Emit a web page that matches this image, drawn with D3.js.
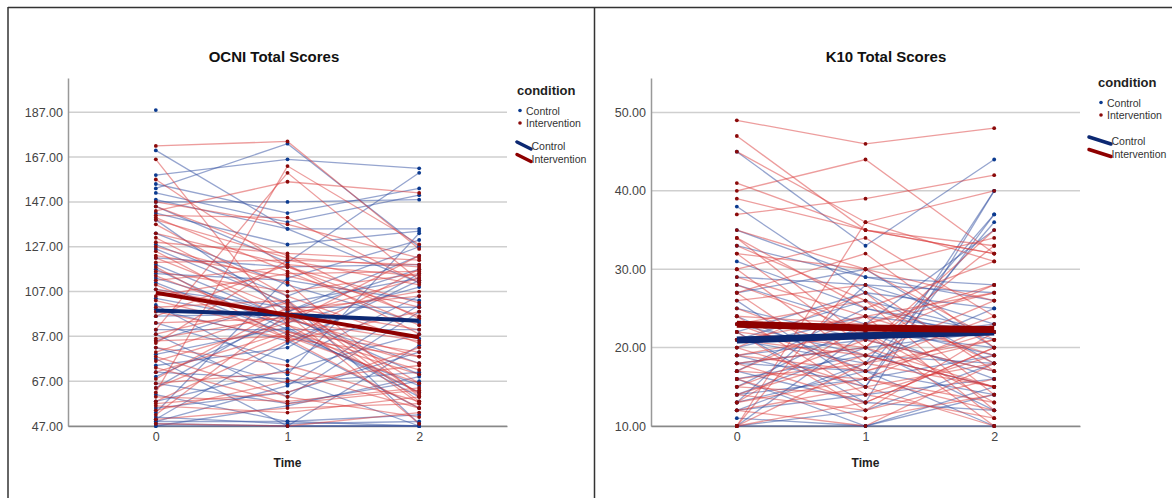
<!DOCTYPE html>
<html>
<head>
<meta charset="utf-8">
<script src="https://cdn.jsdelivr.net/npm/d3@7"></script>
<style>
  html, body { margin: 0; padding: 0; background: #fff; }
  svg { display: block; font-family: "Liberation Sans", Arial, sans-serif; }
</style>
</head>
<body>
<svg id="chart" width="1172" height="498"></svg>
<script>
// ---------- DATA ----------
const times = [0, 1, 2];
const timeTickLabels = ["0", "1", "2"];
const groups = ["Control", "Intervention"];

const ocniTicks = [47, 67, 87, 107, 127, 147, 167, 187];
const k10Ticks = [10, 20, 30, 40, 50];

// OCNI individual trajectories [t0, t1, t2]
const ocniControl = [
  [188, null, null],
  [153, 173, 127],
  [170, 135, 111],
  [159, 166, 162],
  [155, 142, 153],
  [151, 138, 150],
  [148, 135, 135],
  [147, 147, 148],
  [145, 120, 160],
  [142, 128, 134],
  [139, 98, 117],
  [133, 110, 93],
  [128, 105, 127],
  [126, 102, 113],
  [122, 118, 119],
  [119, 95, 75],
  [117, 90, 90],
  [115, 112, 103],
  [113, 96, 70],
  [111, 88, 65],
  [108, 100, 100],
  [104, 93, 109],
  [101, 70, 133],
  [99, 85, 55],
  [96, 97, 86],
  [93, 76, 105],
  [90, 90, 62],
  [88, 60, 98],
  [85, 103, 48],
  [82, 66, 71],
  [79, 91, 60],
  [77, 47, 83],
  [74, 82, 115],
  [71, 68, 47],
  [69, 95, 94],
  [66, 57, 67],
  [64, 98, 123],
  [61, 49, 52],
  [58, 72, 88],
  [55, 62, 80],
  [53, 113, 130],
  [51, 48, 49],
  [50, 84, 112],
  [49, 49, 47],
  [48, 47, 47],
  [47, 47, 47],
  [47, 56, 69],
  [49, 65, 101]
];
const ocniIntervention = [
  [172, 174, 126],
  [166, 92, 75],
  [157, 118, 102],
  [147, 137, 122],
  [145, 123, 95],
  [143, 156, 151],
  [141, 140, 111],
  [140, 116, 92],
  [139, 122, 118],
  [137, 105, 84],
  [133, 119, 114],
  [131, 101, 66],
  [129, 124, 121],
  [127, 111, 60],
  [125, 94, 85],
  [123, 114, 100],
  [122, 99, 57],
  [120, 121, 110],
  [118, 86, 78],
  [116, 107, 115],
  [114, 92, 62],
  [112, 118, 96],
  [110, 86, 55],
  [108, 97, 107],
  [105, 115, 116],
  [103, 89, 72],
  [100, 103, 61],
  [98, 86, 117],
  [96, 119, 88],
  [93, 95, 78],
  [90, 160, 112],
  [88, 102, 58],
  [86, 96, 113],
  [85, 87, 66],
  [84, 121, 119],
  [82, 74, 58],
  [80, 99, 105],
  [78, 60, 51],
  [76, 93, 123],
  [73, 57, 63],
  [71, 89, 80],
  [68, 100, 90],
  [66, 71, 55],
  [64, 88, 70],
  [62, 163, 128],
  [60, 58, 64],
  [58, 85, 98],
  [56, 53, 60],
  [54, 67, 74],
  [52, 97, 48],
  [50, 55, 57],
  [48, 47, 53],
  [57, 62, 82]
];
const ocniMeanControl = [98.5, 96.6, 94.0];
const ocniMeanIntervention = [106.5, 96.6, 86.6];

// K10 individual trajectories [t0, t1, t2]
const k10Control = [
  [45, 33, 44],
  [38, 27, 25],
  [35, 29, 28],
  [33, 29, 26],
  [31, 25, 22],
  [29, 28, 27],
  [28, 23, 19],
  [27, 30, 20],
  [26, 15, 37],
  [25, 21, 23],
  [24, 17, 36],
  [23, 19, 15],
  [22, 27, 18],
  [22, 13, 40],
  [21, 18, 25],
  [21, 22, 16],
  [20, 24, 22],
  [19, 15, 40],
  [19, 21, 17],
  [18, 17, 14],
  [18, 20, 22],
  [17, 13, 12],
  [17, 25, 21],
  [16, 19, 18],
  [16, 10, 15],
  [15, 23, 35],
  [14, 20, 12],
  [14, 16, 19],
  [13, 17, 10],
  [13, 28, 23],
  [12, 14, 16],
  [12, 18, 37],
  [11, 10, 14],
  [10, 22, 20],
  [10, 10, 10],
  [10, 12, 18],
  [21, 26, 22]
];
const k10Intervention = [
  [49, 46, 48],
  [47, 35, 32],
  [45, 36, 31],
  [41, 35, 33],
  [40, 44, 32],
  [39, 35, 32],
  [37, 39, 42],
  [35, 30, 26],
  [34, 25, 31],
  [34, 21, 28],
  [33, 26, 18],
  [32, 30, 34],
  [32, 20, 15],
  [30, 34, 24],
  [30, 18, 21],
  [29, 24, 27],
  [28, 22, 13],
  [27, 32, 20],
  [27, 16, 23],
  [26, 28, 17],
  [25, 19, 15],
  [24, 23, 28],
  [24, 14, 19],
  [23, 26, 12],
  [23, 17, 22],
  [22, 20, 35],
  [22, 12, 16],
  [21, 24, 11],
  [21, 19, 26],
  [20, 15, 18],
  [20, 27, 14],
  [19, 17, 21],
  [19, 22, 10],
  [18, 13, 20],
  [18, 20, 33],
  [17, 16, 13],
  [17, 24, 19],
  [16, 11, 14],
  [16, 18, 24],
  [15, 21, 17],
  [15, 14, 11],
  [14, 19, 15],
  [14, 12, 22],
  [13, 16, 12],
  [13, 23, 27],
  [12, 15, 10],
  [12, 10, 18],
  [10, 18, 15],
  [10, 36, 40],
  [10, 13, 20],
  [10, 30, 21]
];
const k10MeanControl = [20.97, 21.5, 22.0];
const k10MeanIntervention = [22.97, 22.5, 22.3];

// ---------- DRAWING ----------
const svg = d3.select("#chart");
const COLORS = {
  controlDot: "#0b3a8f", interDot: "#8b0a0a",
  controlLine: "rgba(45,75,160,0.5)", interLine: "rgba(220,60,60,0.5)",
  controlMean: "#0c2872", interMean: "#8e0000"
};

// frame
svg.append("line").attr("x1", 8).attr("x2", 1172).attr("y1", 7.5).attr("y2", 7.5).attr("stroke", "#333").attr("stroke-width", 1.5);
svg.append("line").attr("x1", 8).attr("x2", 8).attr("y1", 7).attr("y2", 498).attr("stroke", "#333").attr("stroke-width", 1.5);
svg.append("line").attr("x1", 594.5).attr("x2", 594.5).attr("y1", 7).attr("y2", 498).attr("stroke", "#333").attr("stroke-width", 1.5);

function panel(cfg) {
  const g = svg.append("g");
  const x = d3.scaleLinear().domain([-0.667, 2.667]).range([cfg.x0, cfg.x1]);
  const y = d3.scaleLinear().domain(cfg.yDomain).range([426, 78]);

  // gridlines
  g.selectAll(".grid").data(cfg.ticks).join("line")
    .attr("x1", cfg.x0).attr("x2", cfg.x1)
    .attr("y1", d => y(d)).attr("y2", d => y(d))
    .attr("stroke", "#cfcfcf").attr("stroke-width", 1.5);

  // y axis
  const yAxis = d3.axisLeft(y).tickValues(cfg.ticks).tickFormat(d3.format(".2f")).tickSize(0).tickPadding(5);
  const ya = g.append("g").attr("transform", `translate(${cfg.x0},0)`).call(yAxis);
  ya.select(".domain").attr("stroke", "#999").attr("stroke-width", 1.5);
  ya.selectAll("text").attr("fill", "#444").style("font-size", "12.5px").style("font-family", "Liberation Sans, Arial, sans-serif");

  // x axis
  const xAxis = d3.axisBottom(x).tickValues(times).tickFormat((d, i) => timeTickLabels[i]).tickSize(0).tickPadding(6);
  const xa = g.append("g").attr("transform", "translate(0,426)").call(xAxis);
  xa.select(".domain").attr("stroke", "#888").attr("stroke-width", 1.5);
  xa.selectAll("text").attr("fill", "#444").style("font-size", "12.5px").style("font-family", "Liberation Sans, Arial, sans-serif");

  const line = d3.line().defined(d => d != null).x((d, i) => x(times[i])).y(d => y(d));

  // individual lines
  [[cfg.control, COLORS.controlLine], [cfg.inter, COLORS.interLine]].forEach(([rows, col]) => {
    g.append("g").selectAll("path").data(rows).join("path")
      .attr("d", r => line(r))
      .attr("fill", "none").attr("stroke", col).attr("stroke-width", 1.3);
  });

  // dots
  [[cfg.control, COLORS.controlDot], [cfg.inter, COLORS.interDot]].forEach(([rows, col]) => {
    const pts = [];
    rows.forEach(r => r.forEach((v, i) => { if (v != null) pts.push([times[i], v]); }));
    g.append("g").selectAll("circle").data(pts).join("circle")
      .attr("cx", d => x(d[0])).attr("cy", d => y(d[1])).attr("r", 1.9).attr("fill", col);
  });

  // mean lines
  const mline = d3.line().x((d, i) => x(times[i])).y(d => y(d));
  g.append("path").attr("d", mline(cfg.meanControl)).attr("fill", "none")
    .attr("stroke", COLORS.controlMean).attr("stroke-width", cfg.meanWidth);
  g.append("path").attr("d", mline(cfg.meanInter)).attr("fill", "none")
    .attr("stroke", COLORS.interMean).attr("stroke-width", cfg.meanWidth);

  // title
  g.append("text").attr("x", cfg.titleX).attr("y", 62).attr("text-anchor", "middle")
    .attr("font-weight", "bold").attr("font-size", 15).attr("fill", "#111").text(cfg.title);
  // x label
  g.append("text").attr("x", x(1)).attr("y", 467).attr("text-anchor", "middle")
    .attr("font-weight", "bold").attr("font-size", 12).attr("fill", "#222").text("Time");

  // legend
  const L = cfg.legend;
  g.append("text").attr("x", L.x).attr("y", L.y).attr("font-weight", "bold").attr("font-size", 13).attr("fill", "#222").text("condition");
  [[groups[0], COLORS.controlDot], [groups[1], COLORS.interDot]].forEach(([name, col], i) => {
    const yy = L.y + 16 + i * 12.5;
    g.append("circle").attr("cx", L.x + 3).attr("cy", yy - 0.5).attr("r", 1.8).attr("fill", col);
    g.append("text").attr("x", L.x + 9).attr("y", yy + 3.5).attr("font-size", 10.5).attr("fill", "#333").text(name);
  });
  [[groups[0], COLORS.controlMean], [groups[1], COLORS.interMean]].forEach(([name, col], i) => {
    const yy = L.ly + i * 12.5;
    g.append("line").attr("x1", L.lx).attr("y1", yy - 4).attr("x2", L.lx + L.lw).attr("y2", yy + 3)
      .attr("stroke", col).attr("stroke-width", 3.5).attr("stroke-linecap", "round");
    g.append("text").attr("x", L.lx + L.lw + 0.5).attr("y", yy + 4).attr("font-size", 10.5).attr("fill", "#333").text(name);
  });
}

panel({
  x0: 68, x1: 507, yDomain: [47, 202.3], ticks: ocniTicks,
  control: ocniControl, inter: ocniIntervention,
  meanControl: ocniMeanControl, meanInter: ocniMeanIntervention, meanWidth: 4,
  title: "OCNI Total Scores", titleX: 274,
  legend: { x: 517, y: 95, lx: 517, ly: 146, lw: 14 }
});

panel({
  x0: 651, x1: 1080, yDomain: [10, 54.4], ticks: k10Ticks,
  control: k10Control, inter: k10Intervention,
  meanControl: k10MeanControl, meanInter: k10MeanIntervention, meanWidth: 7,
  title: "K10 Total Scores", titleX: 886,
  legend: { x: 1098, y: 87, lx: 1089, ly: 141, lw: 22 }
});
</script>
</body>
</html>
